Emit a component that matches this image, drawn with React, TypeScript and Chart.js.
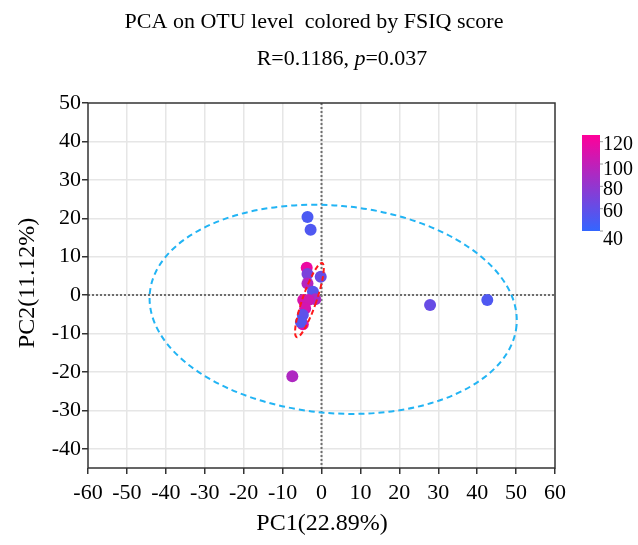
import React, { useEffect, useRef } from 'react';
import { Chart, registerables } from 'chart.js';
Chart.register(...registerables);

// Sample scores (PC1, PC2) and FSIQ score per sample
const pc1 = [-4.8, -3.6, -2.8, -3.8, -3.6, -3.6, -0.2, -2.2, -1.6, -4.7, -3.4, -4.2, -4.8, -5.3, -7.5, 27.9, 42.6];
const pc2 = [-7.6, 20.3, 17.0, 7.1, 5.5, 3.0, 4.8, 0.9, -1.1, -1.3, -1.3, -3.5, -5.2, -7.0, -21.1, -2.6, -1.3];
const fsiq = [112, 50, 52, 118, 70, 95, 62, 55, 90, 110, 105, 108, 58, 55, 92, 62, 52];

const xTicks = [-60, -50, -40, -30, -20, -10, 0, 10, 20, 30, 40, 50, 60];
const yTicks = [-40, -30, -20, -10, 0, 10, 20, 30, 40, 50];
const legendTicks = [40, 60, 80, 100, 120];
const fsiqRange = [40, 126];

// Confidence ellipses: centre (data), semi-axes (data units), rotation (deg)
const ellipseAll = { cx: 3.0, cy: -3.7, rx: 47.3, ry: 27.0, rot: 5 };
const ellipseCluster = { cx: -3.1, cy: -1.3, rx: 1.8, ry: 10.2, rot: 19 };

const LOW = [0x33, 0x66, 0xff];
const HIGH = [0xff, 0x00, 0x99];
function cmap(v: number) {
  let t = (v - fsiqRange[0]) / (fsiqRange[1] - fsiqRange[0]);
  t = Math.max(0, Math.min(1, t));
  const c = LOW.map((l, i) => Math.round(l + (HIGH[i] - l) * t));
  return `rgb(${c[0]},${c[1]},${c[2]})`;
}

const FONT = '"Liberation Serif", "Times New Roman", serif';

function drawEllipse(chart: any, e: any, color: string, dash: number[]) {
  const { ctx, scales: { x, y } } = chart;
  const cx = x.getPixelForValue(e.cx);
  const cy = y.getPixelForValue(e.cy);
  const rx = Math.abs(x.getPixelForValue(e.cx + e.rx) - cx);
  const ry = Math.abs(y.getPixelForValue(e.cy + e.ry) - cy);
  ctx.save();
  ctx.strokeStyle = color;
  ctx.lineWidth = 2;
  ctx.setLineDash(dash);
  ctx.beginPath();
  ctx.ellipse(cx, cy, rx, ry, (e.rot * Math.PI) / 180, 0, Math.PI * 2);
  ctx.stroke();
  ctx.restore();
}

const decor = {
  id: 'decor',
  beforeDatasetsDraw(chart: any) {
    const { ctx, chartArea: a, scales: { x, y } } = chart;
    const x0 = x.getPixelForValue(0);
    const y0 = y.getPixelForValue(0);
    ctx.save();
    ctx.strokeStyle = '#6e6e6e';
    ctx.lineWidth = 2;
    ctx.setLineDash([2, 2]);
    ctx.beginPath();
    ctx.moveTo(x0, a.top);
    ctx.lineTo(x0, a.bottom);
    ctx.moveTo(a.left, y0);
    ctx.lineTo(a.right, y0);
    ctx.stroke();
    ctx.restore();
  },
  afterDatasetsDraw(chart: any) {
    const { ctx, chartArea: a } = chart;
    drawEllipse(chart, ellipseAll, '#22b4f4', [6, 4]);
    drawEllipse(chart, ellipseCluster, '#ff1a1a', [5, 3]);

    // frame
    ctx.save();
    ctx.strokeStyle = '#333';
    ctx.lineWidth = 1.5;
    ctx.strokeRect(a.left, a.top, a.right - a.left, a.bottom - a.top);
    ctx.restore();

    // titles
    ctx.save();
    ctx.fillStyle = '#000';
    ctx.textBaseline = 'alphabetic';
    ctx.textAlign = 'center';
    ctx.font = `22px ${FONT}`;
    ctx.fillText('PCA on OTU level  colored by FSIQ score', 314, 28);

    const p1 = 'R=0.1186, ';
    const p2 = 'p';
    const p3 = '=0.037';
    ctx.textAlign = 'left';
    ctx.font = `22px ${FONT}`;
    const w1 = ctx.measureText(p1).width;
    const w3 = ctx.measureText(p3).width;
    ctx.font = `italic 22px ${FONT}`;
    const w2 = ctx.measureText(p2).width;
    let sx = 342 - (w1 + w2 + w3) / 2;
    ctx.font = `22px ${FONT}`;
    ctx.fillText(p1, sx, 65);
    sx += w1;
    ctx.font = `italic 22px ${FONT}`;
    ctx.fillText(p2, sx, 65);
    sx += w2;
    ctx.font = `22px ${FONT}`;
    ctx.fillText(p3, sx, 65);

    // axis titles
    ctx.textAlign = 'center';
    ctx.textBaseline = 'middle';
    ctx.font = `24px ${FONT}`;
    ctx.fillText('PC1(22.89%)', 322, 524);
    ctx.translate(28, 283);
    ctx.rotate(-Math.PI / 2);
    ctx.fillText('PC2(11.12%)', 0, 0);
    ctx.restore();

    // colour legend
    const bx = 582, bw = 18, bTop = 135, bBot = 231;
    ctx.save();
    const g = ctx.createLinearGradient(0, bBot, 0, bTop);
    g.addColorStop(0, cmap(fsiqRange[0]));
    g.addColorStop(0.5, cmap((fsiqRange[0] + fsiqRange[1]) / 2));
    g.addColorStop(1, cmap(fsiqRange[1]));
    ctx.fillStyle = g;
    ctx.fillRect(bx, bTop, bw, bBot - bTop);
    ctx.font = `20px ${FONT}`;
    ctx.fillStyle = '#000';
    ctx.textAlign = 'left';
    ctx.textBaseline = 'middle';
    ctx.strokeStyle = '#999';
    ctx.lineWidth = 1;
    legendTicks.forEach((v) => {
      const ty = bBot - ((v - fsiqRange[0]) / (fsiqRange[1] - fsiqRange[0])) * (bBot - bTop);
      ctx.beginPath();
      ctx.moveTo(bx + bw, ty);
      ctx.lineTo(bx + bw + 3, ty);
      ctx.stroke();
      const ly = v === fsiqRange[0] ? ty + 9 : v === 100 ? ty + 6 : ty + 3;
      ctx.fillText(String(v), bx + bw + 3, ly);
    });
    ctx.restore();
  },
};

export default function App() {
  const ref = useRef<HTMLCanvasElement>(null);
  useEffect(() => {
    if (!ref.current) return;
    const data = pc1.map((x, i) => ({ x, y: pc2[i] }));
    const chart = new Chart(ref.current, {
      type: 'scatter',
      data: {
        datasets: [
          {
            data,
            backgroundColor: fsiq.map(cmap),
            borderColor: fsiq.map(cmap),
            borderWidth: 0,
            pointRadius: 6,
          },
        ],
      },
      options: {
        animation: false,
        responsive: false,
        layout: { padding: { left: 0, top: 103, right: 83, bottom: 0 } },
        plugins: { legend: { display: false }, tooltip: { enabled: false }, title: { display: false } },
        scales: {
          x: {
            type: 'linear',
            min: -60,
            max: 60,
            afterBuildTicks: (s: any) => { s.ticks = xTicks.map((v) => ({ value: v })); },
            afterFit: (s: any) => { s.height = 77; },
            ticks: { color: '#000', font: { family: FONT, size: 22 }, padding: 6, maxRotation: 0, autoSkip: false },
            grid: {
              color: (c: any) => (c.tick && (c.tick.value === -60 || c.tick.value === 60) ? 'rgba(0,0,0,0)' : '#e6e6e6'),
              lineWidth: 1.5,
              tickColor: '#333',
              tickLength: 6,
            },
            border: { display: false },
          },
          y: {
            type: 'linear',
            min: -45,
            max: 50,
            afterBuildTicks: (s: any) => { s.ticks = yTicks.map((v) => ({ value: v })); },
            afterFit: (s: any) => { s.width = 88; },
            ticks: { color: '#000', font: { family: FONT, size: 22 }, padding: 1, autoSkip: false },
            grid: {
              color: (c: any) => (c.tick && c.tick.value === 50 ? 'rgba(0,0,0,0)' : '#e6e6e6'),
              lineWidth: 1.5,
              tickColor: '#333',
              tickLength: 6,
            },
            border: { display: false },
          },
        },
      },
      plugins: [decor],
    });
    return () => chart.destroy();
  }, []);
  return (
    <div style={{ position: 'absolute', left: 0, top: 0, width: 638, height: 545, background: '#fff' }}>
      <canvas ref={ref} width={638} height={545} style={{ width: 638, height: 545 }} />
    </div>
  );
}
